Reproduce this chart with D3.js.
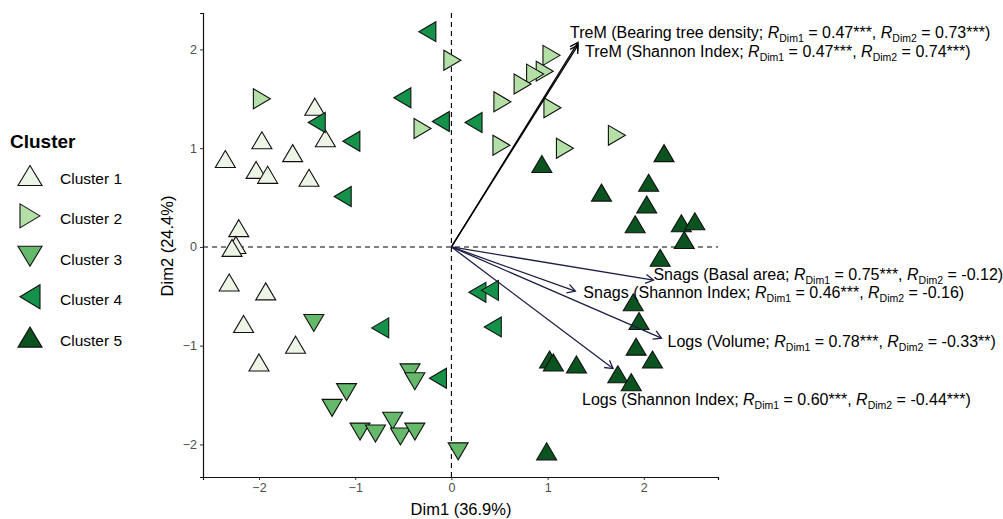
<!DOCTYPE html>
<html>
<head>
<meta charset="utf-8">
<script src="https://cdn.jsdelivr.net/npm/d3@7"></script>
<style>
  html, body { margin: 0; padding: 0; background: #ffffff; }
  svg { display: block; }
  text { font-family: Arial, "Liberation Sans", Helvetica, sans-serif; }
</style>
</head>
<body>
<svg id="chart" width="1003" height="519"></svg>
<script>
// ---------------- DATA ----------------
const clusterNames = ["Cluster 1", "Cluster 2", "Cluster 3", "Cluster 4", "Cluster 5"];
const clusterColors = ["#edf5e6", "#b4e0a8", "#66b96a", "#15924a", "#0b531f"];

const cluster1 = [[-2.35,0.89],[-1.97,1.08],[-2.03,0.78],[-1.91,0.73],[-1.65,0.95],[-1.42,1.42],
  [-1.31,1.10],[-1.48,0.70],[-2.21,0.19],[-2.24,0.02],[-2.28,-0.01],[-2.31,-0.36],[-1.93,-0.45],
  [-2.16,-0.78],[-1.62,-0.99],[-2.00,-1.17]];
const cluster2 = [[-1.97,1.50],[-0.30,1.20],[0.01,1.89],[1.04,1.94],[0.97,1.78],[0.87,1.75],
  [0.74,1.65],[0.53,1.47],[1.05,1.41],[0.52,1.03],[1.18,1.00],[1.72,1.13]];
const cluster3 = [[-1.43,-0.77],[-0.43,-1.27],[-0.38,-1.36],[-1.09,-1.47],[-1.24,-1.63],[-0.61,-1.76],
  [-0.95,-1.87],[-0.79,-1.89],[-0.53,-1.92],[-0.38,-1.87],[0.07,-2.07]];
const cluster4 = [[-0.25,2.18],[-0.51,1.51],[-0.11,1.27],[0.23,1.26],[-1.40,1.26],[-1.04,1.07],
  [-1.13,0.51],[-0.74,-0.82],[-0.14,-1.33],[0.27,-0.46],[0.40,-0.44],[0.43,-0.81]];
const cluster5 = [[0.94,0.84],[1.56,0.55],[2.21,0.95],[2.05,0.65],[2.03,0.43],[1.91,0.23],
  [2.39,0.24],[2.53,0.26],[2.42,0.07],[2.17,-0.11],[1.89,-0.56],[1.95,-0.75],[1.92,-1.01],
  [2.09,-1.14],[1.02,-1.14],[1.06,-1.17],[1.30,-1.19],[1.73,-1.29],[1.87,-1.37],[0.99,-2.07]];

const varGroups = ["TreM", "TreM", "Snags", "Snags", "Logs", "Logs"];
const varMeasures = ["Bearing tree density", "Shannon Index", "Basal area", "Shannon Index", "Volume", "Shannon Index"];
const rDim1 = [0.47, 0.47, 0.75, 0.46, 0.78, 0.60];
const rDim2 = [0.73, 0.74, -0.12, -0.16, -0.33, -0.44];
const sigDim1 = ["***", "***", "***", "***", "***", "***"];
const sigDim2 = ["***", "***", "", "", "**", "***"];

const xTicks = [-2, -1, 0, 1, 2];
const yTicks = [-2, -1, 0, 1, 2];
const xTitle = "Dim1 (36.9%)";
const yTitle = "Dim2 (24.4%)";
const legendTitle = "Cluster";

// ---------------- LAYOUT ----------------
const arrowScale = 2.8;
const labelOffsets = [[-8,-13],[7,9],[0,-6],[8,1],[6,3],[-31,31]];
const arrowColors = ["#000000", "#000000", "#1e1e46", "#1e1e46", "#1e1e46", "#1e1e46"];
const rotations = [0, 90, 180, 270, 0];

const svg = d3.select("#chart");
const x = d3.scaleLinear().domain([-2.582, 2.771]).range([203, 718]);
const y = d3.scaleLinear().domain([-2.33, 2.369]).range([477, 13]);

// triangle path centered on its bounding box
function tri(w, h) {
  return `M0,${-h/2}L${w/2},${h/2}L${-w/2},${h/2}Z`;
}

// reference lines
svg.append("line").attr("x1", x(0)).attr("x2", x(0)).attr("y1", y.range()[1]).attr("y2", y.range()[0])
  .attr("stroke", "#000").attr("stroke-width", 1.1).attr("stroke-dasharray", "5,4");
svg.append("line").attr("x1", x.range()[0]).attr("x2", x.range()[1]).attr("y1", y(0)).attr("y2", y(0))
  .attr("stroke", "#000").attr("stroke-width", 1.1).attr("stroke-dasharray", "5,4");

// axes
const fmt = d3.format("d");
const gx = svg.append("g").attr("transform", `translate(0,${y.range()[0]})`)
  .call(d3.axisBottom(x).tickValues(xTicks).tickFormat(fmt).tickSizeOuter(0).tickSize(3).tickPadding(3));
const gy = svg.append("g").attr("transform", `translate(${x.range()[0]},0)`)
  .call(d3.axisLeft(y).tickValues(yTicks).tickFormat(fmt).tickSizeOuter(0).tickSize(3).tickPadding(3));
[gx, gy].forEach(g => {
  g.select(".domain").attr("stroke", "#111").attr("stroke-width", 1.2);
  g.selectAll(".tick line").attr("stroke", "#333").attr("stroke-width", 1);
  g.selectAll(".tick text").attr("fill", "#4d4d4d").style("font-size", "12.5px")
    .style("font-family", "Arial, 'Liberation Sans', sans-serif");
});

// axis titles
svg.append("text").attr("x", 461).attr("y", 515).attr("text-anchor", "middle")
  .style("font-size", "16.5px").attr("fill", "#000").text(xTitle);
svg.append("text").attr("transform", "translate(173,246) rotate(-90)").attr("text-anchor", "middle")
  .style("font-size", "16.5px").attr("fill", "#000").text(yTitle);

// points
const clusters = [cluster1, cluster2, cluster3, cluster4, cluster5];
clusters.forEach((pts, ci) => {
  svg.append("g").selectAll("path").data(pts).join("path")
    .attr("d", tri(20, 17))
    .attr("transform", d => `translate(${x(d[0])},${y(d[1])}) rotate(${rotations[ci]})`)
    .attr("fill", clusterColors[ci])
    .attr("stroke", "#111")
    .attr("stroke-width", 1.1)
    .attr("stroke-linejoin", "miter");
});

// arrows
const arrows = rDim1.map((r1, i) => ({
  i, x2: x(r1 * arrowScale), y2: y(rDim2[i] * arrowScale)
}));
const ag = svg.append("g");
arrows.forEach(a => {
  const x0 = x(0), y0 = y(0);
  const ang = Math.atan2(a.y2 - y0, a.x2 - x0);
  const L = 9, phi = Math.PI / 6;
  const col = arrowColors[a.i];
  ag.append("line").attr("x1", x0).attr("y1", y0).attr("x2", a.x2).attr("y2", a.y2)
    .attr("stroke", col).attr("stroke-width", 1.3);
  const p1 = [a.x2 - L * Math.cos(ang - phi), a.y2 - L * Math.sin(ang - phi)];
  const p2 = [a.x2 - L * Math.cos(ang + phi), a.y2 - L * Math.sin(ang + phi)];
  ag.append("path").attr("d", `M${p1[0]},${p1[1]}L${a.x2},${a.y2}L${p2[0]},${p2[1]}`)
    .attr("fill", "none").attr("stroke", col).attr("stroke-width", 1.3)
    .attr("stroke-linejoin", "miter");
});

// arrow labels
const fs = 16, subFs = 10.5, subDy = 4;
arrows.forEach(a => {
  const i = a.i;
  const t = svg.append("text")
    .attr("x", a.x2 + labelOffsets[i][0])
    .attr("y", a.y2 + labelOffsets[i][1] + fs * 0.36)
    .style("font-size", fs + "px").attr("fill", "#000");
  t.append("tspan").text(`${varGroups[i]} (${varMeasures[i]}; `);
  t.append("tspan").style("font-style", "italic").text("R");
  t.append("tspan").attr("dy", subDy).style("font-size", subFs + "px").text("Dim1");
  t.append("tspan").attr("dy", -subDy).text(` = ${rDim1[i].toFixed(2)}${sigDim1[i]}, `);
  t.append("tspan").style("font-style", "italic").text("R");
  t.append("tspan").attr("dy", subDy).style("font-size", subFs + "px").text("Dim2");
  t.append("tspan").attr("dy", -subDy).text(` = ${rDim2[i].toFixed(2)}${sigDim2[i]})`);
});

// legend
svg.append("text").attr("x", 10).attr("y", 148).style("font-size", "19px")
  .style("font-weight", "bold").attr("fill", "#000").text(legendTitle);
const lg = svg.append("g").selectAll("g").data(clusterNames).join("g")
  .attr("transform", (d, i) => `translate(30,${175.5 + i * 40.4})`);
lg.append("path")
  .attr("d", tri(24, 20))
  .attr("transform", (d, i) => `rotate(${rotations[i]})`)
  .attr("fill", (d, i) => clusterColors[i])
  .attr("stroke", "#111").attr("stroke-width", 1.1);
lg.append("text").attr("x", 30).attr("y", 3).attr("dy", "0.36em")
  .style("font-size", "15.5px").attr("fill", "#000").text(d => d);
</script>
</body>
</html>
